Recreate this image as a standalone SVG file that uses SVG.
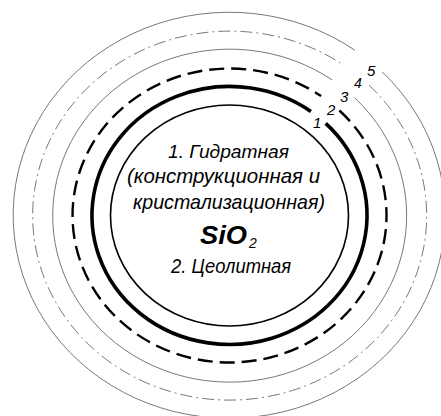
<svg xmlns="http://www.w3.org/2000/svg" width="441" height="416" viewBox="0 0 441 416">
<style>
.ring{fill:none}
.inner{stroke:#000;stroke-width:1.6}
.thick{stroke:#000;stroke-width:3.6}
.dash{stroke:#000;stroke-width:2.4;stroke-dasharray:15 7}
.thin{stroke:#555;stroke-width:0.8}
.dashdot{stroke:#555;stroke-width:0.8;stroke-dasharray:12 4 2 4}
text{font-family:"Liberation Sans","DejaVu Sans",sans-serif;font-style:italic;fill:#000}
.num{font-size:15px}
</style>
<rect width="441" height="416" fill="#fff"/>
<g id="rings">
  <ellipse id="ring-inner" class="ring inner" cx="229.5" cy="215.5" rx="119" ry="110.5"/>
  <path id="ring-1" class="ring thick" d="M325.7,123.3 A137.5,129 0 1 1 310.9,111.5"/>
  <path id="ring-2" class="ring dash" d="M339.4,110.5 A157,147 0 1 1 321.1,96.1"/>
  <path id="ring-3" class="ring thin" d="M354.7,97.8 A177,166.5 0 1 1 332.3,80"/>
  <path id="ring-4" class="ring dashdot" d="M368.8,85 A197,184.5 0 1 1 343.9,65.3"/>
  <path id="ring-5" class="ring thin" d="M382.2,72 A216,203 0 1 1 354.9,50.2"/>
</g>
<g id="ring-labels">
  <text class="num" x="313" y="128">1</text>
  <text class="num" x="327" y="115">2</text>
  <text class="num" x="340" y="102">3</text>
  <text class="num" x="354" y="88" style="font-size:14px">4</text>
  <text class="num" x="367" y="76">5</text>
</g>
<g id="center-text">
  <text x="168" y="158" font-size="18.5" textLength="121" lengthAdjust="spacingAndGlyphs">1. Гидратная</text>
  <text x="127" y="182.5" font-size="21" textLength="193" lengthAdjust="spacingAndGlyphs">(конструкционная и</text>
  <text x="133" y="209" font-size="21" textLength="192" lengthAdjust="spacingAndGlyphs">кристализационная)</text>
  <text x="200" y="244" font-size="25" font-weight="bold" textLength="47" lengthAdjust="spacingAndGlyphs">SiO</text>
  <text x="249" y="248" font-size="14">2</text>
  <text x="171" y="273" font-size="21" textLength="120" lengthAdjust="spacingAndGlyphs">2. Цеолитная</text>
</g>
</svg>
